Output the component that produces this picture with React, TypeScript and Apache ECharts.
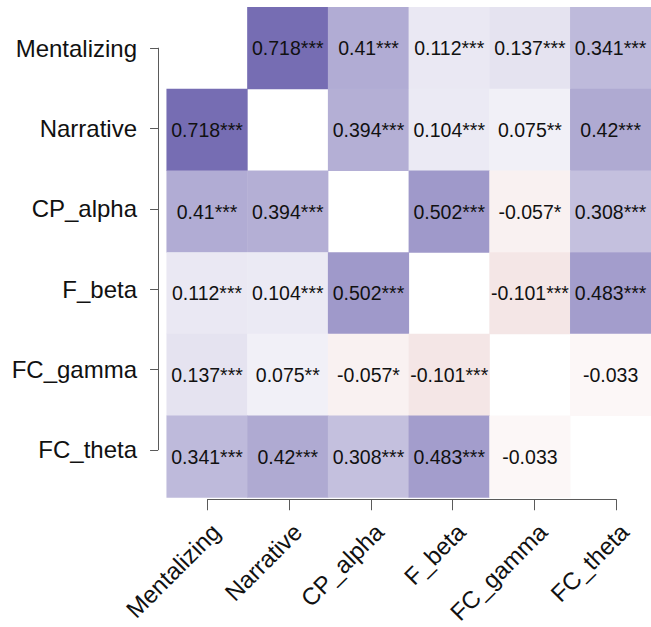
import React, { useEffect, useRef } from "react";
import * as echarts from "echarts";

const variables = ["Mentalizing", "Narrative", "CP_alpha", "F_beta", "FC_gamma", "FC_theta"];

// Correlation matrix (row-major, diagonal left blank as null)
const corrMentalizing = [null, 0.718, 0.41, 0.112, 0.137, 0.341];
const corrNarrative = [0.718, null, 0.394, 0.104, 0.075, 0.42];
const corrCPalpha = [0.41, 0.394, null, 0.502, -0.057, 0.308];
const corrFbeta = [0.112, 0.104, 0.502, null, -0.101, 0.483];
const corrFCgamma = [0.137, 0.075, -0.057, -0.101, null, -0.033];
const corrFCtheta = [0.341, 0.42, 0.308, 0.483, -0.033, null];

const starsMentalizing = ["", "***", "***", "***", "***", "***"];
const starsNarrative = ["***", "", "***", "***", "**", "***"];
const starsCPalpha = ["***", "***", "", "***", "*", "***"];
const starsFbeta = ["***", "***", "***", "", "***", "***"];
const starsFCgamma = ["***", "**", "*", "***", "", ""];
const starsFCtheta = ["***", "***", "***", "***", "", ""];

const corrRows = [corrMentalizing, corrNarrative, corrCPalpha, corrFbeta, corrFCgamma, corrFCtheta];
const starRows = [starsMentalizing, starsNarrative, starsCPalpha, starsFbeta, starsFCgamma, starsFCtheta];

const FONT = "'Liberation Sans', Arial, sans-serif";

export default function App() {
  const ref = useRef<HTMLDivElement>(null);

  useEffect(() => {
    if (!ref.current) return;
    const chart = echarts.init(ref.current, null, { renderer: "svg" });

    const data: any[] = [];
    corrRows.forEach((row, r) => {
      row.forEach((v, c) => {
        if (v === null) return;
        data.push([c, r, v, String(v) + starRows[r][c]]);
      });
    });

    const cell = 81.7;
    const gLeft = 166.7;
    const gTop = 7.3;
    const n = variables.length;

    chart.setOption({
      animation: false,
      backgroundColor: "#ffffff",
      textStyle: { fontFamily: FONT },
      grid: [
        { left: gLeft, top: gTop, width: cell * n, height: cell * n },
        { left: gLeft + cell / 2, top: gTop + cell / 2, width: cell * (n - 1), height: cell * (n - 1) },
      ],
      xAxis: [
        { type: "category", data: variables, gridIndex: 0, show: false },
        {
          type: "value",
          gridIndex: 1,
          min: 0,
          max: n - 1,
          interval: 1,
          position: "bottom",
          offset: 49.5,
          axisLine: { show: true, onZero: false, lineStyle: { color: "#5a5a5a", width: 1 } },
          axisTick: { show: true, length: 11, inside: false, lineStyle: { color: "#5a5a5a", width: 1 } },
          splitLine: { show: false },
          axisLabel: {
            rotate: 45,
            margin: 20,
            verticalAlign: "top",
            fontSize: 24,
            color: "#111111",
            fontFamily: FONT,
            formatter: (v: number) => variables[Math.round(v)] ?? "",
          },
        },
      ],
      yAxis: [
        { type: "category", data: variables, gridIndex: 0, inverse: true, show: false },
        {
          type: "value",
          gridIndex: 1,
          min: 0,
          max: n - 1,
          interval: 1,
          inverse: true,
          position: "left",
          offset: 49.5,
          axisLine: { show: true, onZero: false, lineStyle: { color: "#5a5a5a", width: 1 } },
          axisTick: { show: true, length: 8, inside: false, lineStyle: { color: "#5a5a5a", width: 1 } },
          splitLine: { show: false },
          axisLabel: {
            margin: 21,
            fontSize: 24,
            color: "#111111",
            fontFamily: FONT,
            formatter: (v: number) => variables[Math.round(v)] ?? "",
          },
        },
      ],
      visualMap: {
        show: false,
        type: "continuous",
        min: -1,
        max: 1,
        dimension: 2,
        seriesIndex: 0,
        inRange: { color: ["#960a0a", "#ffffff", "#403495"] },
      },
      series: [
        {
          type: "heatmap",
          xAxisIndex: 0,
          yAxisIndex: 0,
          data,
          itemStyle: { borderWidth: 0 },
          label: {
            show: true,
            fontSize: 19.5,
            color: "#111111",
            fontFamily: FONT,
            formatter: (p: any) => p.data[3],
          },
          emphasis: { disabled: true },
        },
        {
          type: "scatter",
          xAxisIndex: 1,
          yAxisIndex: 1,
          data: [],
        },
      ],
    });

    return () => chart.dispose();
  }, []);

  return (
    <div
      ref={ref}
      style={{ position: "absolute", left: 0, top: 0, width: 651, height: 627 }}
    />
  );
}
